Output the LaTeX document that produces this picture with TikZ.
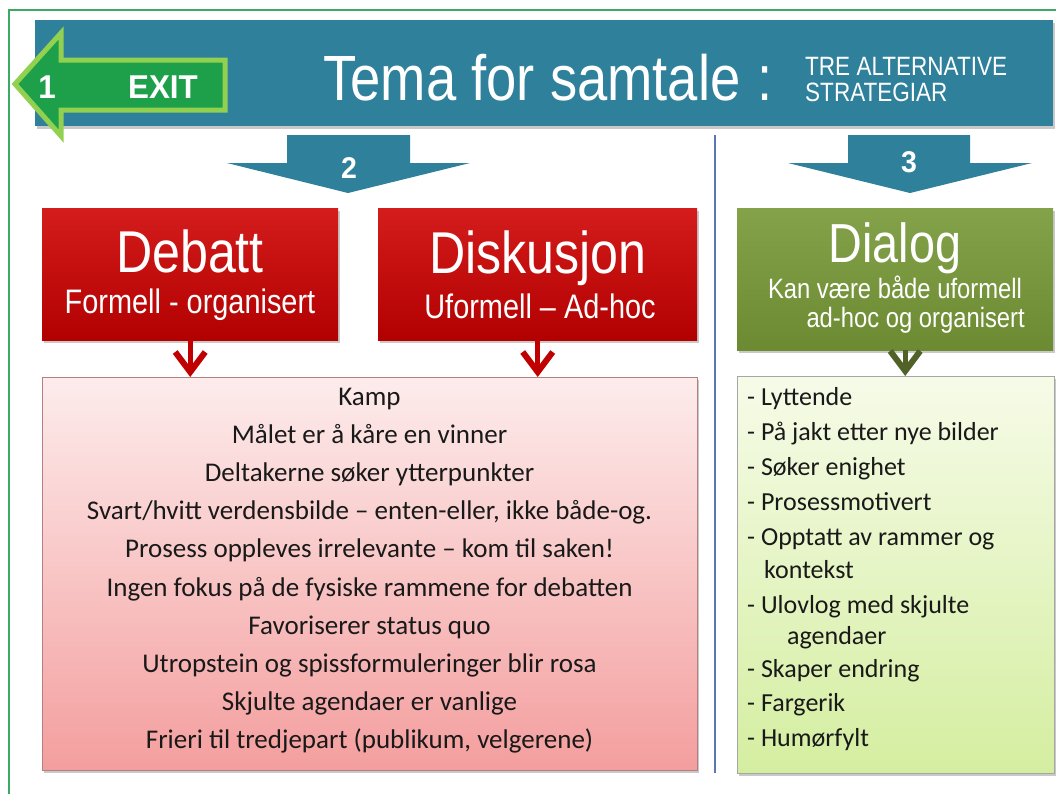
\documentclass[tikz,border=0pt]{standalone}
\usepackage{fontspec}
\setmainfont{Carlito}
\newfontfamily\hsans[FakeStretch=0.85]{Liberation Sans}
\newfontfamily\bsans[FakeStretch=0.95]{Liberation Sans}
\usetikzlibrary{shadows,calc,arrows.meta}
\definecolor{bannerteal}{RGB}{46,128,155}
\definecolor{exitgreen}{RGB}{30,160,75}
\definecolor{exitborder}{RGB}{146,208,80}
\definecolor{redtop}{RGB}{212,28,28}
\definecolor{redbot}{RGB}{178,0,0}
\definecolor{olivetop}{RGB}{132,162,74}
\definecolor{olivebot}{RGB}{108,138,50}
\definecolor{chevred}{RGB}{192,0,0}
\definecolor{chevgreen}{RGB}{80,98,40}
\definecolor{pinktop}{RGB}{253,236,236}
\definecolor{pinkbot}{RGB}{244,158,158}
\definecolor{lgtop}{RGB}{246,251,232}
\definecolor{lgbot}{RGB}{212,238,160}
\definecolor{dividerblue}{RGB}{90,120,175}
\definecolor{framegreen}{RGB}{60,170,100}
\definecolor{textdark}{RGB}{25,25,25}
\begin{document}
\begin{tikzpicture}[x=1pt,y=-1pt,
  softshadow/.style={drop shadow={shadow xshift=2pt,shadow yshift=-2.5pt,opacity=0.35,fill=black!60}},
  banner/.style={rectangle,fill=bannerteal,inner sep=0pt,anchor=north west,softshadow},
  redbox/.style={rectangle,inner sep=0pt,anchor=north west,top color=redtop,bottom color=redbot,softshadow},
  olivebox/.style={rectangle,inner sep=0pt,anchor=north west,top color=olivetop,bottom color=olivebot,softshadow},
  pinkbox/.style={rectangle,inner sep=0pt,anchor=north west,top color=pinktop,bottom color=pinkbot,draw=red!40!black!50,line width=0.8pt,softshadow},
  greenbox/.style={rectangle,inner sep=0pt,anchor=north west,top color=lgtop,bottom color=lgbot,draw=black!35,line width=0.8pt,softshadow},
  blockarrow/.style={fill=bannerteal},
  exitarrow/.style={fill=exitgreen,draw=exitborder,line width=5pt,line join=miter},
  headtext/.style={text=white,inner sep=0pt,font=\hsans\fontsize{59}{59}\selectfont},
  subtext/.style={text=white,inner sep=0pt,font=\hsans\fontsize{34}{34}\selectfont},
  numtext/.style={text=white,inner sep=0pt,font=\bsans\bfseries\fontsize{30}{30}\selectfont},
  pinkitem/.style={text=textdark,inner sep=0pt,text height=19pt,text depth=7pt,font=\fontsize{27}{27}\selectfont},
  greenitem/.style={text=textdark,inner sep=0pt,anchor=west,text height=18pt,text depth=7pt,font=\fontsize{26}{26}\selectfont},
  chev/.style={line width=5pt,-{Straight Barb[length=20pt,width=30pt,line width=6pt]}}
]
\clip (0,0) rectangle (1056,793);
\fill[white] (0,0) rectangle (1056,793);
\draw[framegreen,line width=1.5pt] (9,10) rectangle (1070,810);

% banner
\node[banner,minimum width=1018pt,minimum height=106pt] (banner) at (35,20) {};

% exit arrow
\draw[exitarrow] (15,84) -- (61,33) -- (61,60) -- (225,60) -- (225,110) -- (61,110) -- (61,136) -- cycle;
\node[text=white,inner sep=0pt,font=\bsans\bfseries\fontsize{33}{33}\selectfont,anchor=base] (one) at (47,98) {1};
\node[text=white,inner sep=0pt,font=\bsans\bfseries\fontsize{33}{33}\selectfont,anchor=base] (exit) at (163,98) {EXIT};

% title
\node[text=white,inner sep=0pt,font=\hsans\fontsize{64}{64}\selectfont,anchor=base] (title) at (532,100) {Tema for samtale};
\node[text=white,inner sep=0pt,font=\hsans\fontsize{64}{64}\selectfont,anchor=base] (colon) at (765,100) {:};
\node[text=white,inner sep=0pt,font=\hsans\fontsize{26.5}{26.5}\selectfont,anchor=base west] (sub1) at (805,75) {TRE ALTERNATIVE};
\node[text=white,inner sep=0pt,font=\hsans\fontsize{26.5}{26.5}\selectfont,anchor=base west] (sub2) at (805,101) {STRATEGIAR};

% block arrows
\fill[blockarrow] (287,135) -- (410,135) -- (410,163) -- (470,163) -- (348,193) -- (227,163) -- (287,163) -- cycle;
\node[numtext,anchor=base] (two) at (349,178) {2};
\fill[blockarrow] (848,135) -- (970,135) -- (970,163) -- (1032,163) -- (910,193) -- (788,163) -- (848,163) -- cycle;
\node[numtext,anchor=base] (three) at (909,172) {3};

% divider
\draw[dividerblue,line width=2pt] (715,135) -- (715,773);

% heading boxes
\node[redbox,minimum width=296pt,minimum height=132pt] (debatt) at (42,208) {};
\node[redbox,minimum width=319pt,minimum height=132pt] (diskusjon) at (378,208) {};
\node[olivebox,minimum width=316pt,minimum height=142pt] (dialog) at (737,208) {};

\node[headtext,anchor=base] (debattT) at (190,272) {Debatt};
\node[subtext,anchor=base] (debattS) at (190,313) {Formell - organisert};
\node[headtext,anchor=base] (diskT) at (538,273) {Diskusjon};
\node[subtext,anchor=base] (diskS) at (540,318) {Uformell – Ad-hoc};
\node[headtext,font=\hsans\fontsize{55}{55}\selectfont,anchor=base] (dialogT) at (895,262) {Dialog};
\node[subtext,font=\hsans\fontsize{28}{28}\selectfont,anchor=base] (dialogS1) at (895,298) {Kan være både uformell};
\node[subtext,font=\hsans\fontsize{28}{28}\selectfont,anchor=base east] (dialogS2) at (1025,327) {ad-hoc og organisert};

% list boxes
\node[pinkbox,minimum width=655pt,minimum height=393pt] (pink) at (42,377) {};
\node[greenbox,minimum width=317pt,minimum height=397pt] (green) at (737,376) {};

% chevrons
\draw[chev,chevred] (debatt.south) -- (debatt.south |- pink.north);
\draw[chev,chevred] (diskusjon.south) -- (diskusjon.south |- pink.north);
\draw[chev,chevgreen] ($(dialog.south)+(10,0)$) -- ($(dialog.south |- green.north)+(10,0)$);

% pink list
\foreach \t [count=\i from 0] in {Kamp,
  Målet er å kåre en vinner,
  Deltakerne søker ytterpunkter,
  {Svart/hvitt verdensbilde – enten-eller, ikke både-og.},
  Prosess oppleves irrelevante – kom til saken!,
  Ingen fokus på de fysiske rammene for debatten,
  Favoriserer status quo,
  Utropstein og spissformuleringer blir rosa,
  Skjulte agendaer er vanlige,
  {Frieri til tredjepart (publikum, velgerene)}}
  \node[pinkitem] (p\i) at (369.5,{399+38.2*\i}) {\t};

% green list
\foreach \xx/\yy/\t [count=\i from 0] in {
  747/400/- Lyttende,
  747/435/- På jakt etter nye bilder,
  747/470/- Søker enighet,
  747/505/- Prosessmotivert,
  747/540/- Opptatt av rammer og,
  764/573/kontekst,
  747/608/- Ulovlog med skjulte,
  787/639/agendaer,
  747/672/- Skaper endring,
  747/706/- Fargerik,
  747/741/- Humørfylt}
  \node[greenitem] (g\i) at (\xx,\yy) {\t};
\end{tikzpicture}
\end{document}
